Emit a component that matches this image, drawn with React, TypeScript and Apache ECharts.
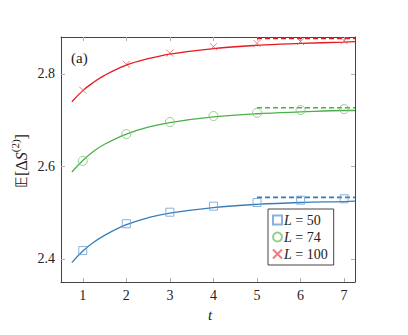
import React, { useEffect, useRef } from "react";
import * as echarts from "echarts";

const tValues = [1, 2, 3, 4, 5, 6, 7];
const xTickLabels = [1, 2, 3, 4, 5, 6, 7];
const yTickValues = [2.4, 2.6, 2.8];

const seriesNames = ["L = 50", "L = 74", "L = 100"];
const markersL50 = [2.418, 2.476, 2.501, 2.514, 2.522, 2.527, 2.53];
const markersL74 = [2.612, 2.67, 2.696, 2.709, 2.716, 2.722, 2.724];
const markersL100 = [2.765, 2.821, 2.845, 2.859, 2.866, 2.87, 2.872];

const fitT = [0.75, 1, 1.25, 1.5, 2, 2.5, 3, 4, 5, 6, 7, 7.25];
const fitL50 = [2.392, 2.417, 2.436, 2.451, 2.474, 2.489, 2.499, 2.511, 2.518, 2.522, 2.524, 2.525];
const fitL74 = [2.588, 2.613, 2.633, 2.648, 2.67, 2.685, 2.695, 2.707, 2.714, 2.718, 2.721, 2.721];
const fitL100 = [2.74, 2.764, 2.782, 2.797, 2.819, 2.833, 2.843, 2.855, 2.862, 2.866, 2.869, 2.87];

const asymT = [5, 7.25];
const asymptotes = [2.533, 2.727, 2.877];

const lineColors = ["#377eb8", "#4daf4a", "#e41a1c"];
const markerColors = ["#6a9fd2", "#79c476", "#ec5a5c"];
const symbols = ["rect", "circle", "path://M0,0L10,10M10,0L0,10"];
const symbolSizes = [8, 9, 7];

const FONT = "Liberation Serif";

export default function App() {
  const ref = useRef<HTMLDivElement>(null);
  useEffect(() => {
    if (!ref.current) return;
    const chart = echarts.init(ref.current, null, { renderer: "svg" });
    const markers = [markersL50, markersL74, markersL100];
    const fits = [fitL50, fitL74, fitL100];
    const series: any[] = [];
    for (let i = 0; i < 3; i++) {
      series.push({
        type: "line",
        name: "fit" + i,
        color: lineColors[i],
        data: fitT.map((t, k) => [t, fits[i][k]]),
        smooth: 0.4,
        showSymbol: false,
        symbol: "none",
        itemStyle: { color: lineColors[i] },
        lineStyle: { color: lineColors[i], width: 1.3 },
        emphasis: { disabled: true },
        z: 2,
      });
      series.push({
        type: "line",
        name: "asym" + i,
        color: lineColors[i],
        data: asymT.map((t) => [t, asymptotes[i]]),
        showSymbol: false,
        symbol: "none",
        itemStyle: { color: lineColors[i] },
        lineStyle: { color: lineColors[i], width: 1.7, type: [5, 3] },
        emphasis: { disabled: true },
        z: 2,
      });
      series.push({
        type: "scatter",
        name: seriesNames[i],
        data: tValues.map((t, k) => [t, markers[i][k]]),
        symbol: symbols[i],
        symbolSize: symbolSizes[i],
        itemStyle: {
          color: "rgba(255,255,255,0)",
          borderColor: markerColors[i],
          borderWidth: 1,
        },
        emphasis: { disabled: true },
        z: 3,
      });
    }
    const axisLine = { show: true, onZero: false, lineStyle: { color: "#444", width: 1 } };
    const tickStyle = { color: "#b0b0b0", width: 1 };
    chart.setOption({
      animation: false,
      backgroundColor: "#fff",
      grid: { left: 61, top: 37, right: 53, bottom: 53, containLabel: false },
      xAxis: [
        {
          type: "value",
          min: 0.5,
          max: 7.25,
          position: "bottom",
          axisLine,
          splitLine: { show: false },
          axisTick: { show: true, inside: true, length: 4, lineStyle: tickStyle, customValues: xTickLabels },
          axisLabel: { show: true, customValues: xTickLabels, margin: 6, color: "#222", fontFamily: FONT, fontSize: 14 },
        },
        {
          type: "value",
          min: 0.5,
          max: 7.25,
          position: "top",
          axisLine,
          splitLine: { show: false },
          axisTick: { show: true, inside: true, length: 4, lineStyle: tickStyle, customValues: xTickLabels },
          axisLabel: { show: false, customValues: xTickLabels },
        },
      ],
      yAxis: [
        {
          type: "value",
          min: 2.35,
          max: 2.88,
          position: "left",
          axisLine,
          splitLine: { show: false },
          axisTick: { show: true, inside: true, length: 4, lineStyle: tickStyle, customValues: yTickValues },
          axisLabel: {
            show: true,
            customValues: yTickValues,
            margin: 6,
            color: "#222",
            fontFamily: FONT,
            fontSize: 14,
            formatter: (v: number) => v.toFixed(1),
          },
        },
        {
          type: "value",
          min: 2.35,
          max: 2.88,
          position: "right",
          axisLine,
          splitLine: { show: false },
          axisTick: { show: true, inside: true, length: 4, lineStyle: tickStyle, customValues: yTickValues },
          axisLabel: { show: false, customValues: yTickValues },
        },
      ],
      legend: {
        data: seriesNames,
        orient: "vertical",
        left: 268,
        top: 209,
        width: 72,
        padding: [4, 6, 4, 4],
        itemGap: 3,
        itemWidth: 9,
        itemHeight: 9,
        borderColor: "#444",
        borderWidth: 1,
        borderRadius: 0,
        backgroundColor: "#fff",
        selectedMode: false,
        formatter: (name: string) => "{i|L} = " + name.split("= ")[1],
        textStyle: {
          fontFamily: FONT,
          fontSize: 14,
          color: "#222",
          padding: [0, 0, 0, -3],
          rich: { i: { fontStyle: "italic", fontFamily: FONT, fontSize: 14, color: "#222" } },
        },
      },
      graphic: [
        {
          type: "text",
          left: 71,
          top: 50,
          style: { text: "(a)", fontFamily: FONT, fontSize: 15, fill: "#222" },
        },
        {
          type: "text",
          x: 19,
          y: 161,
          rotation: Math.PI / 2,
          style: {
            text: "{n|𝔼[Δ}{s|S}{sup|(2)}{n|]}",
            fontFamily: FONT,
            fontSize: 16,
            fill: "#222",
            align: "center",
            verticalAlign: "middle",
            rich: {
              n: { fontFamily: FONT, fontSize: 16, fill: "#222", lineHeight: 20, verticalAlign: "bottom" },
              s: { fontFamily: FONT, fontSize: 16, fontStyle: "italic", fill: "#222", lineHeight: 20, verticalAlign: "bottom" },
              sup: { fontFamily: FONT, fontSize: 11, fill: "#222", lineHeight: 20, verticalAlign: "top" },
            },
          },
        },
        {
          type: "text",
          x: 210,
          y: 315,
          style: {
            text: "t",
            fontFamily: FONT,
            fontStyle: "italic",
            fontSize: 15,
            fill: "#222",
            align: "center",
            verticalAlign: "middle",
          },
        },
      ],
      series,
    });
    return () => chart.dispose();
  }, []);
  return <div ref={ref} style={{ width: 408, height: 335, position: "absolute", left: 0, top: 0 }} />;
}
